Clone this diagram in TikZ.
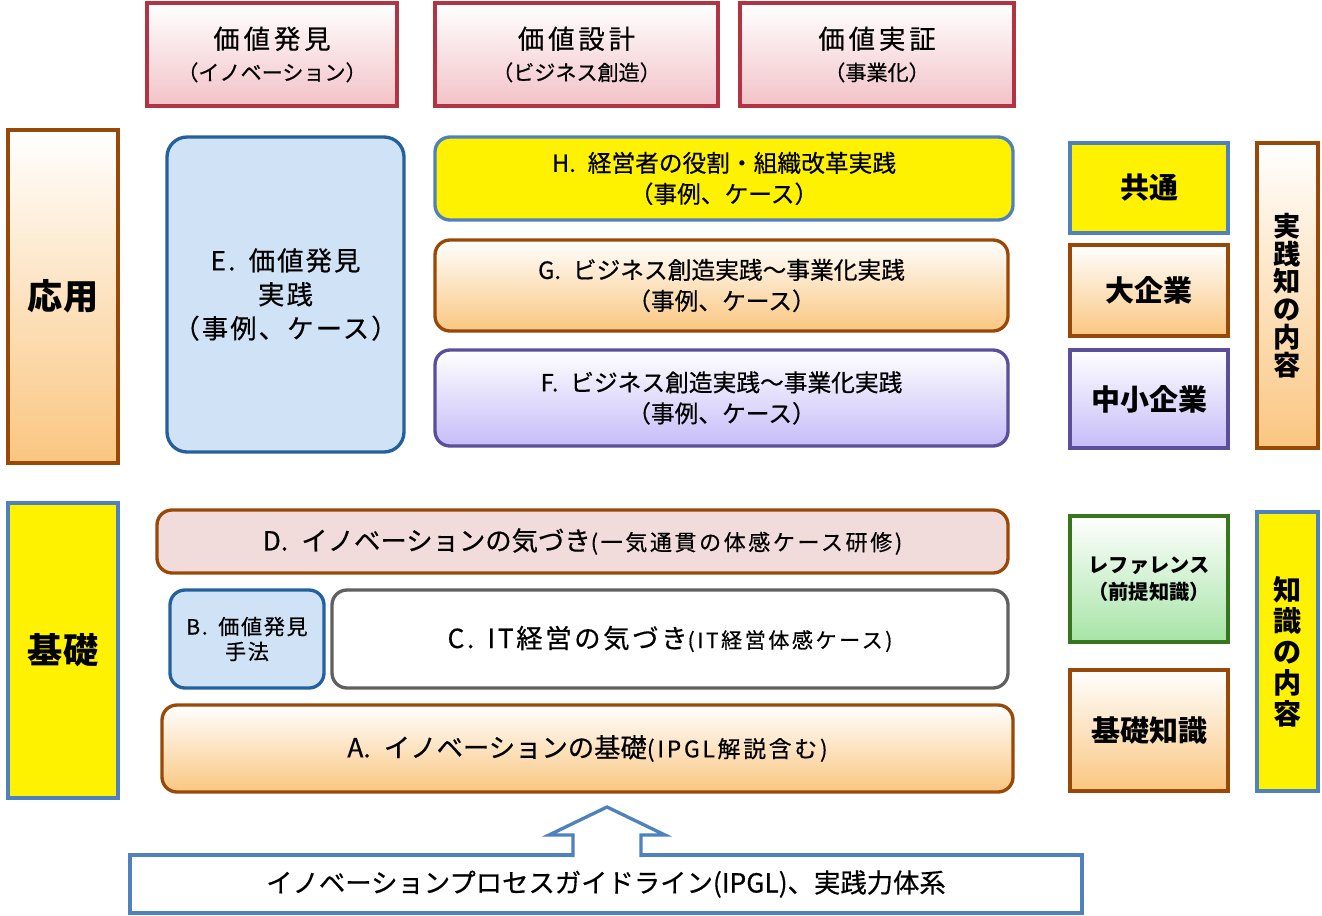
\documentclass[tikz,border=0pt]{standalone}
\usepackage{fontspec}
\setmainfont{Noto Sans CJK JP}[UprightFeatures={FakeBold=0.5}]
\usetikzlibrary{positioning}
\definecolor{phred}{RGB}{178,52,66}
\definecolor{phpink}{RGB}{242,194,199}
\definecolor{brn}{RGB}{152,72,7}
\definecolor{org}{RGB}{250,198,128}
\definecolor{lblue}{RGB}{79,129,189}
\definecolor{dblue}{RGB}{35,97,158}
\definecolor{skyfill}{RGB}{208,227,246}
\definecolor{purp}{RGB}{92,78,155}
\definecolor{lav}{RGB}{198,188,248}
\definecolor{grn}{RGB}{56,118,30}
\definecolor{mint}{RGB}{166,228,166}
\definecolor{rose}{RGB}{242,220,219}
\definecolor{gry}{RGB}{96,96,96}
\newcommand{\fsz}[2]{\fontsize{#1}{#2}\selectfont}
\newcommand{\spc}[1]{\addfontfeature{LetterSpace=#1}}

\begin{document}
\begin{tikzpicture}[x=0.02cm, y=-0.02cm,
  wh/.style 2 args={minimum width=#1*0.02cm, minimum height=#2*0.02cm},
  base/.style={draw, line width=1.9pt, inner sep=0pt, align=center},
  phase/.style={base, draw=phred, top color=white, bottom color=phpink, font=\fsz{15}{18}\spc{15}},
  tan/.style={base, draw=brn, top color=white, bottom color=org},
  yel/.style={base, draw=lblue, fill=yellow},
  lilac/.style={base, draw=purp, top color=white, bottom color=lav},
  mnt/.style={base, draw=grn, top color=white, bottom color=mint},
  rnd/.style={rounded corners=0.3cm},
  case/.style={rnd, font=\fsz{13.5}{17.6}},
  big/.style={font=\bfseries\fsz{#1}{#1}}]
  \useasboundingbox (0,0) rectangle (1322,916);
  % value phases
  \node[phase, wh={250}{103}] (disc) at (272,54.5) {価値発見\\{\fsz{12}{18}\spc{0}（イノベーション）}};
  \node[phase, wh={283}{103}] (design) at (576.5,54.5) {価値設計\\{\fsz{12}{18}\spc{0}（ビジネス創造）}};
  \node[phase, wh={274}{103}] (proof) at (877,54.5) {価値実証\\{\fsz{12}{18}\spc{0}（事業化）}};
  % left labels
  \node[tan, big=20, wh={110}{333}] (apply) at (63,296.5) {応用};
  \node[yel, big=20, wh={110}{295}] (basics) at (63,650.5) {基礎};
  % practice cases
  \node[base, draw=dblue, fill=skyfill, rounded corners=0.4cm, font=\fsz{15}{19.3}\spc{8}, wh={237}{315}] (e) at (285.5,294.5) {E.\enspace 価値発見\\実践\\（事例、ケース）};
  \node[yel, case, wh={578}{83}] (h) at (724,178.5) {H.\enspace 経営者の役割・組織改革実践\\（事例、ケース）};
  \node[tan, case, wh={573}{91}] (g) at (721.5,285.5) {G.\enspace ビジネス創造実践〜事業化実践\\（事例、ケース）};
  \node[lilac, case, wh={573}{96}] (f) at (721.5,398) {F.\enspace ビジネス創造実践〜事業化実践\\（事例、ケース）};
  % right side
  \node[yel, big=16.5, wh={158}{90}] (common) at (1149,188) {共通};
  \node[tan, big=16.5, wh={158}{91}] (large) at (1149,290.5) {大企業};
  \node[lilac, big=16.5, wh={158}{98}] (sme) at (1149,399) {中小企業};
  \node[tan, font=\bfseries\fsz{15.5}{15.8}, wh={61}{305}] (practice) at (1287.5,295.5) {実\\践\\知\\の\\内\\容};
  \node[mnt, font=\bfseries\fsz{11.5}{15.5}, wh={158}{126}] (ref) at (1149,579) {レファレンス\\（前提知識）};
  \node[tan, big=16.5, wh={158}{121}] (knowl) at (1149,730.5) {基礎知識};
  \node[yel, font=\bfseries\fsz{16}{17.6}, wh={61}{279}] (knowcont) at (1287.5,651.5) {知\\識\\の\\内\\容};
  % basic courses
  \node[base, draw=brn, fill=rose, rnd, wh={851}{63}] (d) at (582.5,541.5) {\fsz{15}{18}D.\enspace イノベーションの気づき{\fsz{12.5}{18}\spc{12}(一気通貫の体感ケース研修)}};
  \node[base, draw=dblue, fill=skyfill, rnd, font=\fsz{12}{14.2}\spc{8}, wh={154}{98}] (b) at (247,639) {B.\enspace 価値発見\\手法};
  \node[base, draw=gry, fill=white, rnd, wh={676}{98}] (c) at (670,639) {\fsz{15}{18}\spc{10}C.\enspace IT経営の気づき{\fsz{12}{18}\spc{12}(IT経営体感ケース)}};
  \node[tan, rnd, wh={851}{87}] (a) at (587.5,748.5) {\fsz{15}{18}A.\enspace イノベーションの基礎{\fsz{13}{18}\spc{12}(IPGL解説含む)}};
  % guideline base with arrow
  \node[base, draw=lblue, fill=white, font=\fsz{15}{18}, wh={952}{58}] (ipgl) at (606,884) {イノベーションプロセスガイドライン(IPGL)、実践力体系};
  \draw[draw=lblue, line width=1.9pt, fill=white] (573,857) -- (573,835) -- (549,835) -- (607,807) -- (665,835) -- (641,835) -- (641,857);
\end{tikzpicture}
\end{document}
